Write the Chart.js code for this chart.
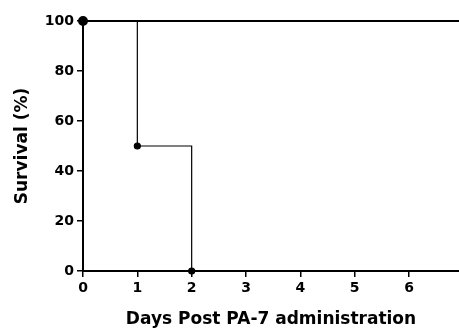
<!DOCTYPE html>
<html>
<head>
<meta charset="utf-8">
<script src="https://cdn.jsdelivr.net/npm/chart.js@4/dist/chart.umd.min.js"></script>
<style>
    html, body { margin: 0; padding: 0; background: #fff; overflow: hidden; }
    /* a bit wider than the window so the plot runs to the right edge */
    #wrap { width: 465px; height: 330px; }
</style>
</head>
<body>
<div id="wrap"><canvas id="survivalChart"></canvas></div>
<script>
// Survival data (Kaplan-Meier style steps)
const controlDays = [0, 7];
const controlSurvival = [100, 100];
const treatedDays = [0, 1, 2];
const treatedSurvival = [100, 50, 0];
const xTickValues = [0, 1, 2, 3, 4, 5, 6];
const yTickValues = [0, 20, 40, 60, 80, 100];

const toPoints = (xs, ys) => xs.map((x, i) => ({ x: x, y: ys[i] }));

const tickFont = { family: 'DejaVu Sans', size: 14, weight: 'bold' };
const titleFont = { family: 'DejaVu Sans', size: 17, weight: 'bold' };

const ctx = document.getElementById('survivalChart').getContext('2d');
new Chart(ctx, {
    type: 'line',
    data: {
        datasets: [{
            label: 'Group A',
            data: toPoints(controlDays, controlSurvival),
            borderColor: '#000',
            backgroundColor: '#000',
            borderWidth: 2,
            pointRadius: [4, 0],
            stepped: true,
            clip: false
        }, {
            label: 'Group B',
            data: toPoints(treatedDays, treatedSurvival),
            borderColor: '#000',
            backgroundColor: '#000',
            borderWidth: 1.2,
            pointRadius: 3,
            stepped: true,
            clip: false
        }]
    },
    options: {
        responsive: true,
        maintainAspectRatio: false,
        animation: false,
        layout: { padding: { top: 21, right: 0, left: 0, bottom: 0 } },
        plugins: {
            legend: { display: false },
            tooltip: { enabled: false }
        },
        scales: {
            x: {
                type: 'linear',
                min: 0,
                max: 6.92,
                afterBuildTicks: (axis) => {
                    axis.ticks = xTickValues.map(v => ({ value: v }));
                },
                ticks: { color: '#000', font: tickFont, padding: 3, includeBounds: false },
                grid: { drawOnChartArea: false, drawTicks: true, tickLength: 6, color: '#000', lineWidth: 1.5 },
                border: { display: true, color: '#000', width: 2 },
                title: {
                    display: true,
                    text: 'Days Post PA-7 administration',
                    color: '#000',
                    font: titleFont,
                    padding: { top: 10, bottom: 0 }
                },
                afterFit: (axis) => {
                    axis.height = 59;
                    axis.paddingLeft = 0;
                    axis.paddingRight = 0;
                }
            },
            y: {
                min: 0,
                max: 100,
                afterBuildTicks: (axis) => {
                    axis.ticks = yTickValues.map(v => ({ value: v }));
                },
                ticks: { color: '#000', font: tickFont, padding: 3 },
                grid: { drawOnChartArea: false, drawTicks: true, tickLength: 6, color: '#000', lineWidth: 1.5 },
                border: { display: true, color: '#000', width: 2 },
                title: {
                    display: true,
                    text: 'Survival (%)',
                    color: '#000',
                    font: titleFont,
                    padding: { top: 12, bottom: 0 }
                },
                afterFit: (axis) => {
                    axis.width = 83;
                    axis.paddingTop = 0;
                    axis.paddingBottom = 0;
                }
            }
        }
    }
});
</script>
</body>
</html>
